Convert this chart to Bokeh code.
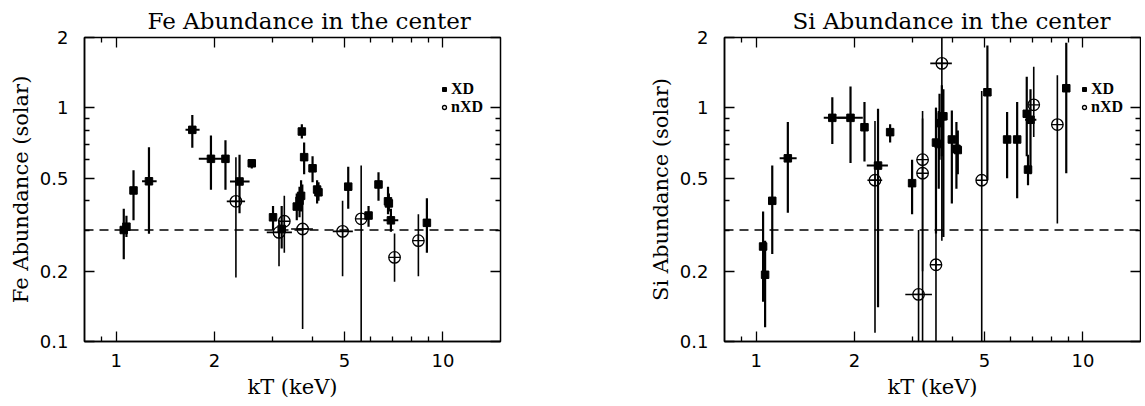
from bokeh.plotting import figure
from bokeh.models import (FixedTicker, LogAxis, Span, Legend, LegendItem,
                          CustomJSTickFormatter, ColumnDataSource)
from bokeh.layouts import row
from bokeh.embed import file_html
from bokeh.resources import INLINE

# ---------------- data ----------------
SOLAR_REF = 0.3

X_MAJOR = [1, 2, 5, 10]
X_MINOR = [0.9, 3, 4, 6, 7, 8, 9]
Y_MAJOR = [0.1, 0.2, 0.5, 1, 2]
Y_MINOR = [0.3, 0.4, 0.6, 0.7, 0.8, 0.9]

# Fe, XD (filled squares)
fe_xd_kt    = [1.055, 1.075, 1.13, 1.26, 1.71, 1.95, 2.16, 2.385, 2.60, 3.02, 3.21, 3.57, 3.64, 3.68, 3.70, 3.76, 3.99, 4.12, 4.16, 5.13, 5.92, 6.35, 6.79, 6.83, 6.93, 8.93]
fe_xd_kt_lo = [1.055, 1.075, 1.13, 1.20, 1.63, 1.79, 2.16, 2.23, 2.60, 3.02, 3.21, 3.57, 3.64, 3.68, 3.70, 3.76, 3.99, 4.12, 4.16, 5.13, 5.92, 6.35, 6.79, 6.83, 6.57, 8.93]
fe_xd_kt_hi = [1.055, 1.075, 1.13, 1.33, 1.80, 2.15, 2.16, 2.56, 2.60, 3.02, 3.21, 3.57, 3.64, 3.68, 3.70, 3.76, 3.99, 4.12, 4.16, 5.13, 5.92, 6.35, 6.79, 6.83, 7.30, 8.93]
fe_xd_ab    = [0.300, 0.310, 0.443, 0.485, 0.805, 0.605, 0.605, 0.484, 0.579, 0.340, 0.303, 0.378, 0.400, 0.420, 0.792, 0.615, 0.551, 0.447, 0.435, 0.460, 0.346, 0.470, 0.398, 0.390, 0.330, 0.322]
fe_xd_ab_lo = [0.225, 0.280, 0.330, 0.289, 0.675, 0.446, 0.446, 0.354, 0.550, 0.300, 0.250, 0.330, 0.340, 0.360, 0.740, 0.520, 0.480, 0.390, 0.400, 0.370, 0.310, 0.400, 0.350, 0.360, 0.295, 0.240]
fe_xd_ab_hi = [0.370, 0.345, 0.540, 0.678, 0.933, 0.761, 0.726, 0.630, 0.600, 0.380, 0.380, 0.430, 0.460, 0.490, 0.850, 0.710, 0.620, 0.490, 0.480, 0.560, 0.380, 0.530, 0.460, 0.430, 0.370, 0.410]

# Fe, nXD (open circles)
fe_nxd_kt    = [2.325, 3.15, 3.27, 3.72, 4.93, 5.62, 7.11, 8.41]
fe_nxd_kt_lo = [2.18, 2.89, 3.27, 3.43, 4.60, 5.62, 7.11, 8.41]
fe_nxd_kt_hi = [2.48, 3.45, 3.27, 4.00, 5.30, 5.62, 7.11, 8.41]
fe_nxd_ab    = [0.398, 0.293, 0.327, 0.303, 0.296, 0.335, 0.229, 0.270]
fe_nxd_ab_lo = [0.188, 0.210, 0.240, 0.113, 0.190, 0.100, 0.180, 0.190]
fe_nxd_ab_hi = [0.615, 0.330, 0.420, 0.470, 0.400, 0.566, 0.290, 0.350]

# Si, XD (filled squares)
si_xd_kt    = [1.05, 1.065, 1.12, 1.25, 1.71, 1.944, 2.145, 2.36, 2.57, 3.00, 3.55, 3.62, 3.64, 3.70, 3.74, 3.97, 4.10, 4.14, 5.10, 5.86, 6.29, 6.73, 6.79, 6.91, 8.89]
si_xd_kt_lo = [1.05, 1.065, 1.12, 1.18, 1.61, 1.77, 2.145, 2.18, 2.57, 3.00, 3.55, 3.62, 3.64, 3.70, 3.74, 3.97, 4.10, 4.14, 5.10, 5.86, 6.29, 6.73, 6.79, 6.65, 8.89]
si_xd_kt_hi = [1.05, 1.065, 1.12, 1.33, 2.00, 2.12, 2.145, 2.53, 2.57, 3.00, 3.55, 3.62, 3.64, 3.70, 3.74, 3.97, 4.10, 4.14, 5.10, 5.86, 6.29, 6.73, 6.79, 7.20, 8.89]
si_xd_ab    = [0.255, 0.193, 0.400, 0.608, 0.906, 0.906, 0.826, 0.566, 0.787, 0.476, 0.710, 0.700, 0.860, 0.920, 0.920, 0.732, 0.668, 0.660, 1.166, 0.732, 0.732, 0.943, 0.544, 0.889, 1.213]
si_xd_ab_lo = [0.148, 0.115, 0.237, 0.356, 0.700, 0.580, 0.590, 0.140, 0.710, 0.350, 0.290, 0.450, 0.600, 0.620, 0.280, 0.390, 0.450, 0.520, 0.490, 0.500, 0.410, 0.620, 0.466, 0.520, 0.525]
si_xd_ab_hi = [0.360, 0.270, 0.567, 0.870, 1.110, 1.234, 1.060, 0.990, 0.850, 0.600, 1.000, 0.970, 1.150, 1.250, 1.200, 0.974, 0.870, 0.800, 1.850, 0.960, 1.060, 1.360, 0.630, 1.200, 1.900]

# Si, nXD (open circles)
si_nxd_kt    = [2.31, 3.14, 3.23, 3.23, 3.55, 3.70, 4.90, 7.07, 8.35]
si_nxd_kt_lo = [2.19, 2.86, 3.23, 3.23, 3.55, 3.41, 4.90, 7.07, 8.35]
si_nxd_kt_hi = [2.43, 3.45, 3.23, 3.23, 3.55, 3.97, 4.90, 7.07, 8.35]
si_nxd_ab    = [0.490, 0.159, 0.600, 0.525, 0.213, 1.550, 0.490, 1.030, 0.848]
si_nxd_ab_lo = [0.109, 0.100, 0.200, 0.100, 0.100, 0.270, 0.100, 0.750, 0.320]
si_nxd_ab_hi = [0.878, 0.300, 0.970, 0.900, 1.000, 2.000, 1.180, 1.500, 1.380]

X_RANGE = (0.8, 15)
Y_RANGE = (0.1, 2)

SERIF = "DejaVu Serif"
SANS = "DejaVu Sans"

tick_fmt = CustomJSTickFormatter(code="return tick.toString()")
blank_fmt = CustomJSTickFormatter(code="return ''")


def style_axis(ax, labels=True):
    ax.axis_line_color = "black"
    ax.axis_line_width = 1.5
    ax.major_tick_in = 10
    ax.major_tick_out = 0
    ax.minor_tick_in = 5
    ax.minor_tick_out = 0
    ax.major_tick_line_color = "black"
    ax.minor_tick_line_color = "black"
    ax.major_tick_line_width = 1.3
    ax.minor_tick_line_width = 1.3
    if labels:
        ax.major_label_text_font = SANS
        ax.major_label_text_font_size = "18px"
        ax.major_label_text_color = "black"
        ax.axis_label_text_font = SERIF
        ax.axis_label_text_font_size = "21px"
        ax.axis_label_text_font_style = "normal"
        ax.axis_label_text_color = "black"
    else:
        ax.formatter = blank_fmt
        ax.major_label_standoff = 0
        ax.axis_line_color = None


def make_panel(title, ylabel, title_offset, border_left, border_right,
               xd_kt, xd_kt_lo, xd_kt_hi, xd_ab, xd_ab_lo, xd_ab_hi,
               nxd_kt, nxd_kt_lo, nxd_kt_hi, nxd_ab, nxd_ab_lo, nxd_ab_hi):
    p = figure(x_axis_type="log", y_axis_type="log",
               x_range=X_RANGE, y_range=Y_RANGE,
               frame_width=416, frame_height=304,
               min_border_left=border_left, min_border_right=border_right,
               min_border_top=37, min_border_bottom=0,
               output_backend="svg", toolbar_location=None,
               background_fill_color="white", border_fill_color="white")
    p.grid.visible = False
    p.outline_line_color = "black"
    p.outline_line_width = 1.5
    p.outline_line_alpha = 1

    p.title.text = title
    p.title.text_font = SERIF
    p.title.text_font_size = "23px"
    p.title.text_font_style = "normal"
    p.title.text_color = "black"
    p.title.align = "left"
    p.title.offset = title_offset
    p.title.vertical_align = "top"
    p.title.standoff = 4

    xt = FixedTicker(ticks=X_MAJOR, minor_ticks=X_MINOR)
    yt = FixedTicker(ticks=Y_MAJOR, minor_ticks=Y_MINOR)

    xa = p.xaxis[0]
    xa.ticker = xt
    xa.formatter = tick_fmt
    xa.axis_label = "kT (keV)"
    style_axis(xa)
    xa.major_label_standoff = 12
    xa.axis_label_standoff = 5

    ya = p.yaxis[0]
    ya.ticker = yt
    ya.formatter = tick_fmt
    ya.axis_label = ylabel
    style_axis(ya)
    ya.major_label_standoff = 16
    ya.axis_label_standoff = 4

    top = LogAxis(ticker=FixedTicker(ticks=X_MAJOR, minor_ticks=X_MINOR))
    style_axis(top, labels=False)
    p.add_layout(top, "above")
    right = LogAxis(ticker=FixedTicker(ticks=Y_MAJOR, minor_ticks=Y_MINOR))
    style_axis(right, labels=False)
    p.add_layout(right, "right")

    p.add_layout(Span(location=SOLAR_REF, dimension="width", line_color="black",
                      line_width=1.3, line_dash="9 6"))

    xd = ColumnDataSource(dict(kt=xd_kt, kt_lo=xd_kt_lo, kt_hi=xd_kt_hi,
                               ab=xd_ab, ab_lo=xd_ab_lo, ab_hi=xd_ab_hi))
    nxd = ColumnDataSource(dict(kt=nxd_kt, kt_lo=nxd_kt_lo, kt_hi=nxd_kt_hi,
                                ab=nxd_ab, ab_lo=nxd_ab_lo, ab_hi=nxd_ab_hi))

    # nXD error bars + markers
    p.segment(x0="kt", y0="ab_lo", x1="kt", y1="ab_hi", source=nxd,
              line_color="black", line_width=1.6)
    p.segment(x0="kt_lo", y0="ab", x1="kt_hi", y1="ab", source=nxd,
              line_color="black", line_width=1.6)
    nxd_r = p.scatter("kt", "ab", source=nxd, marker="circle", size=11.5,
                      fill_color=None, line_color="black", line_width=1.3)
    p.scatter("kt", "ab", source=nxd, marker="cross", size=11.5,
              line_color="black", line_width=1.3)

    # XD error bars + markers
    p.segment(x0="kt", y0="ab_lo", x1="kt", y1="ab_hi", source=xd,
              line_color="black", line_width=2.2)
    p.segment(x0="kt_lo", y0="ab", x1="kt_hi", y1="ab", source=xd,
              line_color="black", line_width=2.0)
    xd_r = p.scatter("kt", "ab", source=xd, marker="square", size=7.5,
                     fill_color="black", line_color="black", line_width=1)

    leg = Legend(items=[LegendItem(label="XD", renderers=[xd_r]),
                        LegendItem(label="nXD", renderers=[nxd_r])],
                 location=(355, 225), orientation="vertical",
                 glyph_width=10, glyph_height=14, label_height=14,
                 label_standoff=2, spacing=0, padding=0, margin=0,
                 border_line_color=None, background_fill_alpha=0,
                 label_text_font="Liberation Serif", label_text_font_style="bold",
                 label_text_font_size="16px", label_text_color="black")
    p.add_layout(leg, "center")
    return p


p1 = make_panel("Fe Abundance in the center", "Fe Abundance (solar)", 63, 84, 140,
                fe_xd_kt, fe_xd_kt_lo, fe_xd_kt_hi, fe_xd_ab, fe_xd_ab_lo, fe_xd_ab_hi,
                fe_nxd_kt, fe_nxd_kt_lo, fe_nxd_kt_hi, fe_nxd_ab, fe_nxd_ab_lo, fe_nxd_ab_hi)
p2 = make_panel("Si Abundance in the center", "Si Abundance (solar)", 68, 84, 1,
                si_xd_kt, si_xd_kt_lo, si_xd_kt_hi, si_xd_ab, si_xd_ab_lo, si_xd_ab_hi,
                si_nxd_kt, si_nxd_kt_lo, si_nxd_kt_hi, si_nxd_ab, si_nxd_ab_lo, si_nxd_ab_hi)

layout = row(p1, p2)
open("out.html", "w").write(file_html(layout, INLINE))
